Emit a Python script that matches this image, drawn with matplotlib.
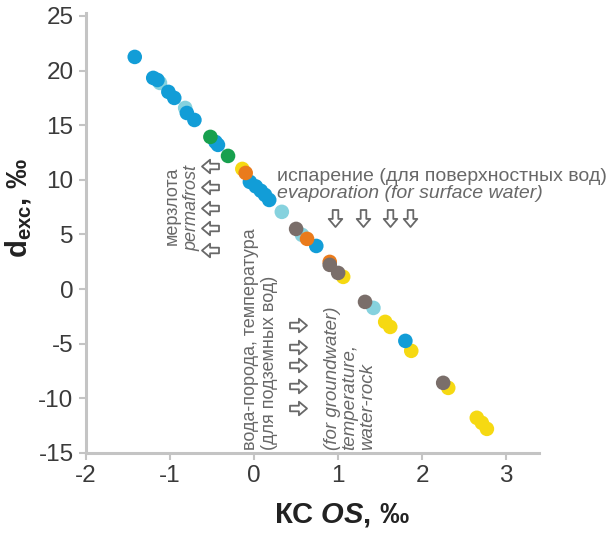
import matplotlib
matplotlib.use("Agg")
import matplotlib.pyplot as plt
from matplotlib.path import Path

plt.rcParams['font.family'] = ['Liberation Sans', 'DejaVu Sans']
plt.rcParams['mathtext.fontset'] = 'custom'
plt.rcParams['mathtext.rm'] = 'Liberation Sans'
plt.rcParams['mathtext.bf'] = 'Liberation Sans:bold'
plt.rcParams['mathtext.it'] = 'Liberation Sans:italic'
plt.rcParams['mathtext.bfit'] = 'Liberation Sans:italic:bold'

# ---- data (KC OS, d_exc) by group ----
lightblue_x = [-1.12, -0.82, 0.33, 0.57, 1.42]
lightblue_y = [18.87, 16.58, 7.07, 4.96, -1.72]

yellow_x = [-0.14, 1.06, 1.56, 1.62, 1.87, 2.31, 2.65, 2.71, 2.77]
yellow_y = [11.0, 1.12, -3.0, -3.46, -5.65, -9.04, -11.78, -12.24, -12.79]

blue_x = [-1.42, -1.20, -1.15, -1.02, -0.95, -0.80, -0.71, -0.46, -0.43,
          -0.05, 0.02, 0.08, 0.13, 0.18, 0.74, 1.80]
blue_y = [21.25, 19.33, 19.14, 18.05, 17.50, 16.12, 15.48, 13.47, 13.20,
          9.81, 9.40, 9.00, 8.62, 8.16, 3.95, -4.74]

green_x = [-0.52, -0.31]
green_y = [13.93, 12.19]

orange_x = [-0.10, 0.63, 0.90]
orange_y = [10.63, 4.60, 2.49]

brown_x = [0.50, 0.90, 1.00, 1.32, 2.25]
brown_y = [5.51, 2.22, 1.48, -1.17, -8.58]

x_ticks = [-2, -1, 0, 1, 2, 3]
y_ticks = [-15, -10, -5, 0, 5, 10, 15, 20, 25]

groups = [
    (lightblue_x, lightblue_y, '#86d2de'),
    (yellow_x, yellow_y, '#f6d912'),
    (blue_x, blue_y, '#129dd7'),
    (green_x, green_y, '#17a04e'),
    (orange_x, orange_y, '#ea7b1c'),
    (brown_x, brown_y, '#7a6e6a'),
]

fig = plt.figure(figsize=(6.09, 5.33), dpi=100)
ax = fig.add_axes([86/609, 80/533, 453/609, 440/533])

for gx, gy, c in groups:
    ax.scatter(gx, gy, s=110, color=c, edgecolors='none', zorder=3)

ax.set_xlim(-2, 3.39)
ax.set_ylim(-15, 25.27)
ax.set_xticks(x_ticks)
ax.set_yticks(y_ticks)
ax.set_xticklabels([str(v) for v in x_ticks])
ax.set_yticklabels([str(v) for v in y_ticks])

for s in ['top', 'right']:
    ax.spines[s].set_visible(False)
for s in ['left', 'bottom']:
    ax.spines[s].set_color('#c4c4c4')
    ax.spines[s].set_linewidth(2.2)
ax.tick_params(axis='both', colors='#c4c4c4', width=1.5, length=5,
               labelcolor='#3a3a3a', labelsize=17.5, pad=4)

# hollow block-arrow markers
_right = [(-1, -0.33), (0.05, -0.33), (0.05, -0.8), (1, 0), (0.05, 0.8),
          (0.05, 0.33), (-1, 0.33), (-1, -0.33)]
arrow_right = Path(_right, closed=True)
arrow_left = Path([(-x, y) for x, y in _right], closed=True)
arrow_down = Path([(y, -x) for x, y in _right], closed=True)

tc = '#686868'
def arrows(xs, ys, marker):
    ax.scatter(xs, ys, marker=marker, s=150, facecolor='white', edgecolor=tc,
               linewidths=1.3, zorder=4)

# permafrost
ax.text(-0.97, 7.6, 'мерзлота', rotation=90, ha='center', va='center', color=tc, fontsize=13)
ax.text(-0.735, 7.4, 'permafrost', rotation=90, ha='center', va='center', color=tc,
        fontsize=13, style='italic')
arrows([-0.53] * 5, [11.27, 9.35, 7.43, 5.6, 3.59], arrow_left)

# evaporation
ax.text(0.27, 10.3, 'испарение (для поверхностных вод)', ha='left', va='center',
        color=tc, fontsize=14)
ax.text(0.27, 8.75, 'evaporation (for surface water)', ha='left', va='center',
        color=tc, fontsize=14, style='italic')
arrows([0.96, 1.30, 1.62, 1.86], [6.52] * 4, arrow_down)

# water-rock
ax.text(0.07, -14.75, 'вода-порода, температура\n(для подземных вод)', rotation=90,
        ha='center', va='bottom', multialignment='left', color=tc, fontsize=13,
        linespacing=1.1)
ax.text(1.14, -14.75, '(for groundwater)\ntemperature,\nwater-rock', rotation=90,
        ha='center', va='bottom', multialignment='left', color=tc, fontsize=13.5,
        style='italic', linespacing=1.05)
arrows([0.52] * 5, [-3.27, -5.29, -6.95, -8.86, -10.87], arrow_right)

fig.text(342/609, 1 - 515/533, r'КС $\mathbfit{OS}$, ‰', ha='center', va='center',
         fontsize=21, fontweight='bold', color='#222222')
fig.text(19/609, 1 - 208/533, r'$\mathbf{d_{exc}}$, ‰', ha='center', va='center',
         rotation=90, fontsize=21, fontweight='bold', color='#222222')

fig.savefig('out.png', dpi=100)
